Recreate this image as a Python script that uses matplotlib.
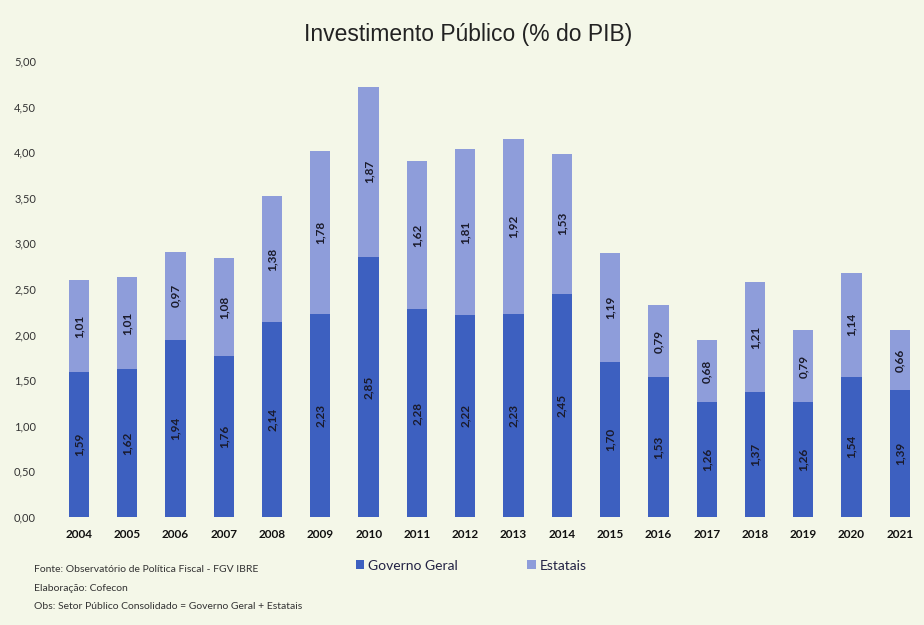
import matplotlib
matplotlib.use("Agg")
import matplotlib.pyplot as plt

years = ["2004", "2005", "2006", "2007", "2008", "2009", "2010", "2011", "2012",
         "2013", "2014", "2015", "2016", "2017", "2018", "2019", "2020", "2021"]
governo_geral = [1.59, 1.62, 1.94, 1.76, 2.14, 2.23, 2.85, 2.28, 2.22,
                 2.23, 2.45, 1.70, 1.53, 1.26, 1.37, 1.26, 1.54, 1.39]
estatais = [1.01, 1.01, 0.97, 1.08, 1.38, 1.78, 1.87, 1.62, 1.81,
            1.92, 1.53, 1.19, 0.79, 0.68, 1.21, 0.79, 1.14, 0.66]
yticks = [0, 0.5, 1.0, 1.5, 2.0, 2.5, 3.0, 3.5, 4.0, 4.5, 5.0]

bg = "#f4f7e8"
c_gov = "#3d60c0"
c_est = "#8e9dda"

fig = plt.figure(figsize=(9.24, 6.25), dpi=100, facecolor=bg)
ax = fig.add_axes([0.054, 0.1728, 0.946, 0.7296])
ax.set_facecolor(bg)

x = list(range(len(years)))
w = 0.42
ax.bar(x, governo_geral, width=w, color=c_gov, label="Governo Geral", zorder=2)
ax.bar(x, estatais, width=w, bottom=governo_geral, color=c_est, label="Estatais", zorder=2)

fmt = lambda v: f"{v:.2f}".replace(".", ",")
for i in x:
    g = governo_geral[i]
    e = estatais[i]
    ax.text(i, g / 2, fmt(g), rotation=90, ha="center", va="center",
            fontsize=8.5, fontweight="bold", color="#1a1a2a", family="Lato")
    ax.text(i, g + e / 2, fmt(e), rotation=90, ha="center", va="center",
            fontsize=8.5, fontweight="bold", color="#1a1a2a", family="Lato")

ax.set_xlim(-0.6, 17.5)
ax.set_ylim(0, 5.0)
ax.set_yticks(yticks)
ax.set_yticklabels([fmt(v) for v in yticks], fontsize=8, color="#333333", family="Lato")
ax.set_xticks(x)
ax.set_xticklabels(years, fontsize=8.5, fontweight="bold", color="#111111", family="Lato")
ax.tick_params(axis="both", length=0)
ax.tick_params(axis="y", pad=10)
ax.tick_params(axis="x", pad=9)
for s in ax.spines.values():
    s.set_visible(False)

fig.text(0.507, 0.945, "Investimento Público (% do PIB)", ha="center", va="center",
         fontsize=16.5, color="#222222", family="Liberation Sans")

leg = fig.legend(loc="center", bbox_to_anchor=(0.51, 0.095), ncol=2, frameon=False,
                 handlelength=0.6, handleheight=0.6, columnspacing=5,
                 handletextpad=0.3, prop={"family": "Lato", "size": 10})
for t in leg.get_texts():
    t.set_color("#222244")

notes = ["Fonte: Observatório de Política Fiscal - FGV IBRE",
         "Elaboração: Cofecon",
         "Obs: Setor Público Consolidado = Governo Geral + Estatais"]
for k, n in enumerate(notes):
    fig.text(0.037, 0.088 - k * 0.029, n, ha="left", va="center", fontsize=7.5,
             color="#333333", family="Lato")

fig.savefig("out.png", dpi=100, facecolor=bg)
